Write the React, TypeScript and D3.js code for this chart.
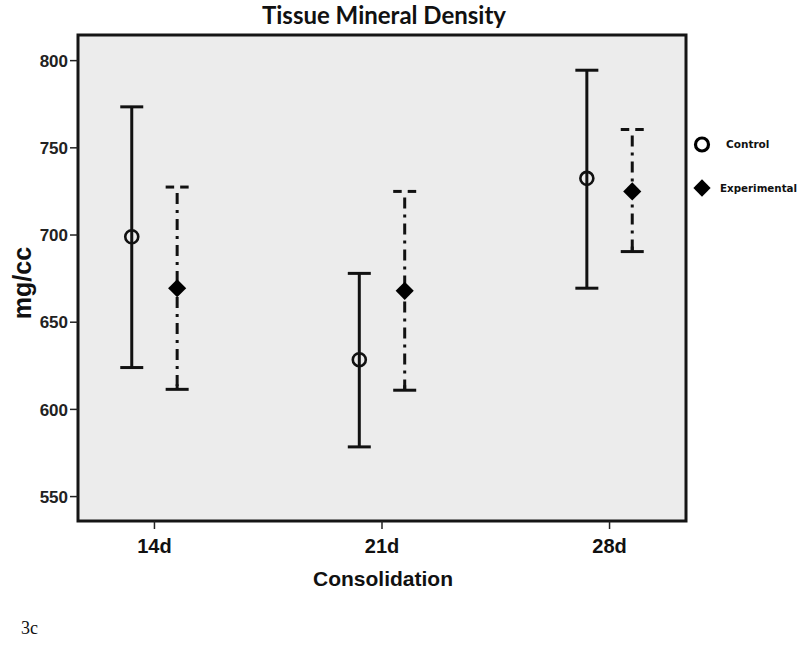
import React from "react";
import * as d3 from "d3";

const categories = ["14d", "21d", "28d"];
const controlMean = [699, 628.5, 732.5];
const controlLow = [624, 578.5, 669.5];
const controlHigh = [773.5, 678, 794.5];
const expMean = [669.5, 668, 725];
const expLow = [611.5, 611, 690.5];
const expHigh = [727.5, 725, 760.5];
const yTicks = [550, 600, 650, 700, 750, 800];

const W = 800;
const H = 661;
const frame = { left: 78, right: 686, top: 35, bottom: 521 };

export default function App() {
  const x = d3
    .scalePoint<string>()
    .domain(categories)
    .range([frame.left, frame.right])
    .padding(0.336);
  const y = d3.scaleLinear().domain([536, 814.7]).range([frame.bottom, frame.top]);
  const off = 22.7;
  const cap = 11.5;
  const diamond = d3.symbol().type(d3.symbolDiamond2).size(210)();
  const legendDiamond = d3.symbol().type(d3.symbolDiamond2).size(190)();

  return (
    <svg
      width={W}
      height={H}
      style={{ position: "absolute", left: 0, top: 0, background: "#fff" }}
    >
      <text
        x={384}
        y={24}
        textAnchor="middle"
        fontFamily="Lato, 'Open Sans', sans-serif"
        fontWeight={700}
        fontSize={24}
        fill="#111"
      >
        Tissue Mineral Density
      </text>
      <rect
        x={frame.left}
        y={frame.top}
        width={frame.right - frame.left}
        height={frame.bottom - frame.top}
        fill="#ececec"
        stroke="#151515"
        strokeWidth={3}
      />
      {yTicks.map((t) => (
        <g key={t}>
          <line
            x1={frame.left - 8}
            x2={frame.left}
            y1={y(t)}
            y2={y(t)}
            stroke="#222"
            strokeWidth={1.5}
          />
          <text
            x={frame.left - 10}
            y={y(t)}
            dy="0.36em"
            textAnchor="end"
            fontFamily="'Liberation Sans', Arial, sans-serif"
            fontWeight="bold"
            fontSize={17}
            fill="#222"
          >
            {t}
          </text>
        </g>
      ))}
      {categories.map((c) => (
        <g key={c}>
          <line
            x1={x(c)}
            x2={x(c)}
            y1={frame.bottom}
            y2={frame.bottom + 8}
            stroke="#222"
            strokeWidth={1.5}
          />
          <text
            x={x(c)}
            y={553}
            textAnchor="middle"
            fontFamily="'Liberation Sans', Arial, sans-serif"
            fontWeight="bold"
            fontSize={20}
            fill="#111"
          >
            {c}
          </text>
        </g>
      ))}
      <text
        x={383}
        y={586}
        textAnchor="middle"
        fontFamily="'Liberation Sans', Arial, sans-serif"
        fontWeight="bold"
        fontSize={21}
        fill="#111"
      >
        Consolidation
      </text>
      <text
        transform={`translate(31,${283}) rotate(-90)`}
        textAnchor="middle"
        fontFamily="'Liberation Sans', Arial, sans-serif"
        fontWeight="bold"
        fontSize={25}
        fill="#111"
      >
        mg/cc
      </text>

      {categories.map((c, i) => {
        const cx = (x(c) as number) - off;
        const ex = (x(c) as number) + off;
        return (
          <g key={"bars" + c}>
            <line x1={cx} x2={cx} y1={y(controlLow[i])} y2={y(controlHigh[i])} stroke="#111" strokeWidth={3} />
            <line x1={cx - cap} x2={cx + cap} y1={y(controlHigh[i])} y2={y(controlHigh[i])} stroke="#111" strokeWidth={3} />
            <line x1={cx - cap} x2={cx + cap} y1={y(controlLow[i])} y2={y(controlLow[i])} stroke="#111" strokeWidth={3} />
            <circle cx={cx} cy={y(controlMean[i])} r={6.5} fill="none" stroke="#111" strokeWidth={2.6} />

            <line
              x1={ex}
              x2={ex}
              y1={y(expHigh[i])}
              y2={y(expLow[i])}
              stroke="#111"
              strokeWidth={3}
              strokeDasharray="11 6 3 6"
              strokeDashoffset={-6}
            />
            <line x1={ex - cap} x2={ex - 3} y1={y(expHigh[i])} y2={y(expHigh[i])} stroke="#111" strokeWidth={3} />
            <line x1={ex + 3} x2={ex + cap} y1={y(expHigh[i])} y2={y(expHigh[i])} stroke="#111" strokeWidth={3} />
            <line x1={ex - cap} x2={ex + cap} y1={y(expLow[i])} y2={y(expLow[i])} stroke="#111" strokeWidth={3} />
            <line x1={ex} x2={ex} y1={y(expLow[i]) - 5} y2={y(expLow[i])} stroke="#111" strokeWidth={3} />
            <path d={diamond || ""} transform={`translate(${ex},${y(expMean[i])})`} fill="#000" />
          </g>
        );
      })}

      <circle cx={702} cy={144.5} r={6.5} fill="none" stroke="#000" strokeWidth={3.2} />
      <text
        x={726}
        y={144.5}
        dy="0.35em"
        fontFamily="'DejaVu Sans', Verdana, sans-serif"
        fontWeight="bold"
        fontSize={10.5}
        fill="#111"
      >
        Control
      </text>
      <path d={legendDiamond || ""} transform="translate(702,188)" fill="#000" />
      <text
        x={720}
        y={188}
        dy="0.35em"
        fontFamily="'DejaVu Sans', Verdana, sans-serif"
        fontWeight="bold"
        fontSize={10.3}
        fill="#111"
      >
        Experimental
      </text>

      <text x={21} y={634} fontFamily="'Liberation Serif', 'Times New Roman', serif" fontSize={18} fill="#111">
        3c
      </text>
    </svg>
  );
}
